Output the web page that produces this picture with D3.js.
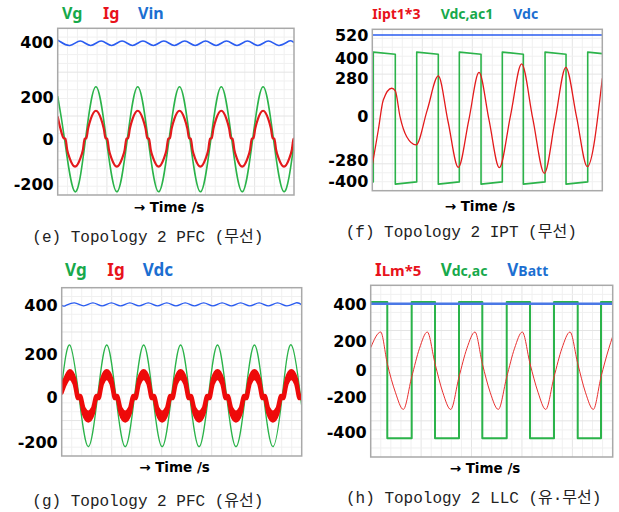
<!DOCTYPE html>
<html>
<head>
<meta charset="utf-8">
<script src="https://cdn.jsdelivr.net/npm/d3@7"></script>
<style>
  body { margin: 0; background: #fff; }
  svg { display: block; }
</style>
</head>
<body>
<div id="chart"></div>
<script>
// ---- data: [time, value] (time ms for PFC, us for IPT/LLC) ----

// (e) PFC wireless
const timeE = 113.1
const ticksE = [-200, 0, 200, 400]
const pfcWlVg = [[0,205],[3.3,0],[8.3,-235],[13.3,0],[18.3,239],[23.3,0],[28.3,-235],[33.3,0],[38.3,239],[43.3,0],
  [48.3,-235],[53.3,0],[58.3,239],[63.3,0],[68.3,-235],[73.3,0],[78.3,239],[83.3,0],[88.3,-235],[93.3,0],
  [98.3,239],[103.3,0],[108.3,-235],[113.1,-20]]
// small flat notch near every zero crossing
const pfcWlIg = [[0,110],[1.3,52],[2.9,6],[3.7,4],[4.55,-47],
  [5.8,-86],[8.3,-122],[10.8,-86],[12.05,-47],[12.9,4],[13.7,6],[14.55,52],[15.8,97],[18.3,137],[20.8,97],[22.05,52],[22.9,6],[23.7,4],[24.55,-47],
  [25.8,-86],[28.3,-122],[30.8,-86],[32.05,-47],[32.9,4],[33.7,6],[34.55,52],[35.8,97],[38.3,137],[40.8,97],[42.05,52],[42.9,6],[43.7,4],[44.55,-47],
  [45.8,-86],[48.3,-122],[50.8,-86],[52.05,-47],[52.9,4],[53.7,6],[54.55,52],[55.8,97],[58.3,137],[60.8,97],[62.05,52],[62.9,6],[63.7,4],[64.55,-47],
  [65.8,-86],[68.3,-122],[70.8,-86],[72.05,-47],[72.9,4],[73.7,6],[74.55,52],[75.8,97],[78.3,137],[80.8,97],[82.05,52],[82.9,6],[83.7,4],[84.55,-47],
  [85.8,-86],[88.3,-122],[90.8,-86],[92.05,-47],[92.9,4],[93.7,6],[94.55,52],[95.8,97],[98.3,137],[100.8,97],[102.05,52],[102.9,6],[103.7,4],[104.55,-47],
  [105.8,-86],[108.3,-122],[110.8,-86],[112.05,-47],[112.9,4],[113.1,5]]
const pfcWlVin = [[0,405],[0.8,406],[5.8,390],[10.8,406],[15.8,390],[20.8,406],[25.8,390],[30.8,406],[35.8,390],
  [40.8,406],[45.8,390],[50.8,406],[55.8,390],[60.8,406],[65.8,390],[70.8,406],[75.8,390],[80.8,406],
  [85.8,390],[90.8,406],[95.8,390],[100.8,406],[105.8,390],[110.8,406],[113.1,400]]

// (f) IPT wireless
const timeF = 53.6
const ticksF = [-400, -280, 0, 280, 400, 520]
const iptI = [[0,-310],[1.4,-89],[2.56,119],[4.52,206],[5.36,186],[6.46,-4],[8.02,-132],[10.19,-184],
  [12.8,44],[15.38,294],[17.65,-35],[20.05,-322],[22.5,-24],[24.87,316],[27.2,-25],[29.6,-324],
  [32.2,1],[34.8,366],[37.4,-17],[40.1,-356],[42.6,-27],[45.1,346],[47.6,-6],[50.1,-318],[53.6,280]]
const iptVac1 = [[0,-405],[0.23,-405],[0.23,432],[5.36,421],[5.36,-418],[10.35,-405],[10.35,432],[15.38,421],
  [15.38,-418],[20.28,-405],[20.28,432],[25.34,421],[25.34,-418],[30.3,-405],[30.3,432],[35.2,421],
  [35.2,-418],[40.26,-405],[40.26,432],[45.15,421],[45.15,-418],[50.2,-405],[50.2,432],[53.6,424]]
const iptVdc = [[0,520],[53.6,520]]

// (g) PFC wired: Ig is a ripple band [time, low, high]
const timeG = 130
const ticksG = [-200, 0, 200, 400]
const pfcWdVg = [[0,52],[4.4,238],[9.4,0],[14.4,-221],[19.4,0],[24.4,238],[29.4,0],[34.4,-221],[39.4,0],
  [44.4,238],[49.4,0],[54.4,-221],[59.4,0],[64.4,238],[69.4,0],[74.4,-221],[79.4,0],[84.4,238],[89.4,0],
  [94.4,-221],[99.4,0],[104.4,238],[109.4,0],[114.4,-221],[119.4,0],[124.4,238],[129.4,0],[130,-28]]
const pfcWdIg = [[0,20,50],
  [1.9,62,86],[4.4,88,122],[6.9,62,86],[8.8,-6,6],[10,-6,6],[11.9,-74,-50],[14.4,-105,-69],[16.9,-74,-50],[18.8,-6,6],[20,-6,6],
  [21.9,62,86],[24.4,88,122],[26.9,62,86],[28.8,-6,6],[30,-6,6],[31.9,-74,-50],[34.4,-105,-69],[36.9,-74,-50],[38.8,-6,6],[40,-6,6],
  [41.9,62,86],[44.4,88,122],[46.9,62,86],[48.8,-6,6],[50,-6,6],[51.9,-74,-50],[54.4,-105,-69],[56.9,-74,-50],[58.8,-6,6],[60,-6,6],
  [61.9,62,86],[64.4,88,122],[66.9,62,86],[68.8,-6,6],[70,-6,6],[71.9,-74,-50],[74.4,-105,-69],[76.9,-74,-50],[78.8,-6,6],[80,-6,6],
  [81.9,62,86],[84.4,88,122],[86.9,62,86],[88.8,-6,6],[90,-6,6],[91.9,-74,-50],[94.4,-105,-69],[96.9,-74,-50],[98.8,-6,6],[100,-6,6],
  [101.9,62,86],[104.4,88,122],[106.9,62,86],[108.8,-6,6],[110,-6,6],[111.9,-74,-50],[114.4,-105,-69],[116.9,-74,-50],[118.8,-6,6],[120,-6,6],
  [121.9,62,86],[124.4,88,122],[126.9,62,86],[128.8,-6,6],[130,-6,6]]
const pfcWdVdc = [[0,400],[1.9,398],[6.9,410],[11.9,398],[16.9,410],[21.9,398],[26.9,410],[31.9,398],[36.9,410],
  [41.9,398],[46.9,410],[51.9,398],[56.9,410],[61.9,398],[66.9,410],[71.9,398],[76.9,410],[81.9,398],
  [86.9,410],[91.9,398],[96.9,410],[101.9,398],[106.9,410],[111.9,398],[116.9,410],[121.9,398],[126.9,410],[130,402]]

// (h) LLC
const timeH = 51.06
const ticksH = [-400, -200, 0, 200, 400]
const llcILm = [[0,154],[2.11,249],[3.5,46],[5.2,-160],[6.88,-267],[8.65,-49],[10.3,150],[11.94,249],
  [13.57,46],[15.2,-160],[16.88,-267],[18.63,-49],[20.3,150],[22.0,249],[23.55,46],[25.2,-160],
  [26.92,-267],[28.7,-49],[30.35,150],[31.99,249],[33.61,46],[35.3,-160],[36.93,-267],[38.68,-49],
  [40.35,150],[42.05,249],[43.68,46],[45.3,-160],[46.97,-267],[48.59,-49],[50.25,150],[51.06,225]]
// square wave, held until the next point
const llcVac = [[0,412],[3.5,-432],[8.65,412],[13.57,-432],[18.63,412],[23.55,-432],[28.7,412],[33.61,-432],
  [38.68,412],[43.68,-432],[48.59,412],[51.06,412]]
const llcVbatt = [[0,403],[51.06,403]]

const captions = ['(e) Topology 2 PFC (무선)', '(f) Topology 2 IPT (무선)', '(g) Topology 2 PFC (유선)', '(h) Topology 2 LLC (유·무선)']
const timeLabel = '→ Time /s'

// ---- styles ----
const GREEN = '#2bb34a', RED = '#e31a1c', BLUE = '#2a5cf0'
const TXT_GREEN = '#17a94b', TXT_RED = '#e8121b', TXT_BLUE = '#1c6fd1'

const svg = d3.select('#chart').append('svg')
  .attr('width', 619)
  .attr('height', 512)

const panels = [
  {
    id: 'e', box: {left: 57.7, right: 294, top: 28.3, bottom: 195},
    xMax: timeE, ticks: ticksE, yPos: [184, 139.5, 97.5, 42.7],
    series: [
      {data: pfcWlVg, color: GREEN, width: 1.6, curve: d3.curveNatural},
      {data: pfcWlIg, color: RED, width: 2.2, curve: d3.curveMonotoneX},
      {data: pfcWlVin, color: BLUE, width: 1.6, curve: d3.curveNatural}
    ],
    legend: {y: 19, items: [
      {x: 62, color: TXT_GREEN, parts: [['Vg', 16]]},
      {x: 103, color: TXT_RED, parts: [['Ig', 16]]},
      {x: 138, color: TXT_BLUE, parts: [['Vin', 16]]}
    ]},
    caption: {x: 32.3, y: 242, text: captions[0]},
    time: {x: 169, y: 211.5}
  },
  {
    id: 'f', box: {left: 372.3, right: 602.3, top: 29.3, bottom: 190.7},
    xMax: timeF, ticks: ticksF, yPos: [181, 160, 116, 78.3, 58.3, 35],
    series: [
      {data: iptVac1, color: GREEN, width: 1.6, curve: d3.curveLinear},
      {data: iptI, color: RED, width: 1.3, curve: d3.curveMonotoneX},
      {data: iptVdc, color: BLUE, width: 1.6, curve: d3.curveLinear}
    ],
    legend: {y: 19, items: [
      {x: 372.3, color: TXT_RED, parts: [['Iipt1*3', 14]]},
      {x: 440.7, color: TXT_GREEN, parts: [['Vdc,ac1', 14]]},
      {x: 513.3, color: TXT_BLUE, parts: [['Vdc', 14]]}
    ]},
    caption: {x: 345.7, y: 237, text: captions[1]},
    time: {x: 480, y: 210.5}
  },
  {
    id: 'g', box: {left: 61.7, right: 301.7, top: 287.7, bottom: 456},
    xMax: timeG, ticks: ticksG, yPos: [442, 397, 354.3, 305.3],
    series: [
      {data: pfcWdVg, color: GREEN, width: 1.3, curve: d3.curveNatural},
      {data: pfcWdIg, color: '#ee0a0a', band: true},
      {data: pfcWdVdc, color: BLUE, width: 1.3, curve: d3.curveNatural}
    ],
    legend: {y: 276, items: [
      {x: 65, color: TXT_GREEN, parts: [['Vg', 17]]},
      {x: 107.3, color: TXT_RED, parts: [['Ig', 17]]},
      {x: 142.7, color: TXT_BLUE, parts: [['Vdc', 17]]}
    ]},
    caption: {x: 32.3, y: 506, text: captions[2]},
    time: {x: 174.5, y: 472}
  },
  {
    id: 'h', box: {left: 370.7, right: 612.7, top: 285.3, bottom: 457},
    xMax: timeH, ticks: ticksH, yPos: [432.7, 397.7, 370.3, 341, 304.3],
    series: [
      {data: llcVac, color: GREEN, width: 2, curve: d3.curveStepAfter},
      {data: llcILm, color: '#e83030', width: 1, curve: d3.curveMonotoneX},
      {data: llcVbatt, color: '#4a78e6', width: 2.6, curve: d3.curveLinear}
    ],
    legend: {y: 276, items: [
      {x: 375, color: TXT_RED, parts: [['I', 17], ['Lm*5', 15]]},
      {x: 440.7, color: TXT_GREEN, parts: [['V', 17], ['dc,ac', 14]]},
      {x: 507.3, color: TXT_BLUE, parts: [['V', 17], ['Batt', 14]]}
    ]},
    caption: {x: 346, y: 503, text: captions[3]},
    time: {x: 485, y: 472.8}
  }
]

function drawPanel(p) {
  const b = p.box
  const x = d3.scaleLinear().domain([0, p.xMax]).range([b.left, b.right])
  // polylinear scale through the labelled ticks
  const y = d3.scaleLinear().domain(p.ticks).range(p.yPos)

  const g = svg.append('g')

  // background + faint grid
  g.append('rect')
    .attr('x', b.left).attr('y', b.top)
    .attr('width', b.right - b.left).attr('height', b.bottom - b.top)
    .attr('fill', '#fff')

  const nx = Math.round((b.right - b.left) / 10)
  const ny = Math.round((b.bottom - b.top) / 9)
  const gx = d3.scaleLinear().domain([0, nx]).range([b.left, b.right])
  const gy = d3.scaleLinear().domain([0, ny]).range([b.top, b.bottom])
  g.append('g').selectAll('line').data(d3.range(1, nx)).join('line')
    .attr('x1', d => gx(d)).attr('x2', d => gx(d))
    .attr('y1', b.top).attr('y2', b.bottom)
    .attr('stroke', d => d % 5 === 0 ? '#e4e4e4' : '#f0f0f0').attr('stroke-width', 1)
  g.append('g').selectAll('line').data(d3.range(1, ny)).join('line')
    .attr('y1', d => gy(d)).attr('y2', d => gy(d))
    .attr('x1', b.left).attr('x2', b.right)
    .attr('stroke', d => d % 5 === 0 ? '#e4e4e4' : '#f0f0f0').attr('stroke-width', 1)

  svg.append('clipPath').attr('id', 'clip-' + p.id)
    .append('rect')
    .attr('x', b.left).attr('y', b.top)
    .attr('width', b.right - b.left).attr('height', b.bottom - b.top)

  const plot = g.append('g').attr('clip-path', `url(#clip-${p.id})`)

  p.series.forEach(s => {
    if (s.band) {
      // ripple band: filled envelope with a thick outline so slopes stay wide
      const area = d3.area()
        .x(d => x(d[0]))
        .y0(d => y(d[1]))
        .y1(d => y(d[2]))
        .curve(d3.curveMonotoneX)
      plot.append('path').datum(s.data)
        .attr('d', area)
        .attr('fill', s.color)
        .attr('stroke', s.color)
        .attr('stroke-width', 4)
        .attr('stroke-linejoin', 'round')
    } else {
      const line = d3.line()
        .x(d => x(d[0]))
        .y(d => y(d[1]))
        .curve(s.curve)
      plot.append('path').datum(s.data)
        .attr('d', line)
        .attr('fill', 'none')
        .attr('stroke', s.color)
        .attr('stroke-width', s.width)
        .attr('stroke-linejoin', 'round')
    }
  })

  // frame
  g.append('rect')
    .attr('x', b.left).attr('y', b.top)
    .attr('width', b.right - b.left).attr('height', b.bottom - b.top)
    .attr('fill', 'none')
    .attr('stroke', '#a9a9a9')
    .attr('stroke-width', 1.5)

  // y axis: labels only
  const axis = d3.axisLeft(y)
    .tickValues(p.ticks)
    .tickSize(0)
    .tickPadding(4)
    .tickFormat(d => String(d))
  const ag = svg.append('g')
    .attr('transform', `translate(${b.left},0)`)
    .call(axis)
  ag.select('.domain').remove()
  ag.attr('font-family', 'DejaVu Sans').attr('font-size', 16)
  ag.selectAll('text').attr('font-weight', 'bold').attr('fill', '#000')

  // legend
  p.legend.items.forEach(it => {
    const t = svg.append('text')
      .attr('x', it.x).attr('y', p.legend.y)
      .attr('font-family', '"Noto Sans", sans-serif')
      .attr('font-weight', 'bold')
      .attr('fill', it.color)
    it.parts.forEach(([txt, size]) => {
      t.append('tspan').attr('font-size', size).text(txt)
    })
  })

  // x label
  svg.append('text')
    .attr('x', p.time.x).attr('y', p.time.y)
    .attr('text-anchor', 'middle')
    .attr('font-family', 'DejaVu Sans')
    .attr('font-weight', 'bold')
    .attr('font-size', 13.5)
    .attr('fill', '#000')
    .text(timeLabel)

  // caption
  svg.append('text')
    .attr('x', p.caption.x).attr('y', p.caption.y)
    .attr('font-family', '"Liberation Mono", "Noto Sans CJK KR", monospace')
    .attr('font-size', 16)
    .attr('fill', '#222')
    .text(p.caption.text)
}

panels.forEach(drawPanel)
</script>
</body>
</html>
